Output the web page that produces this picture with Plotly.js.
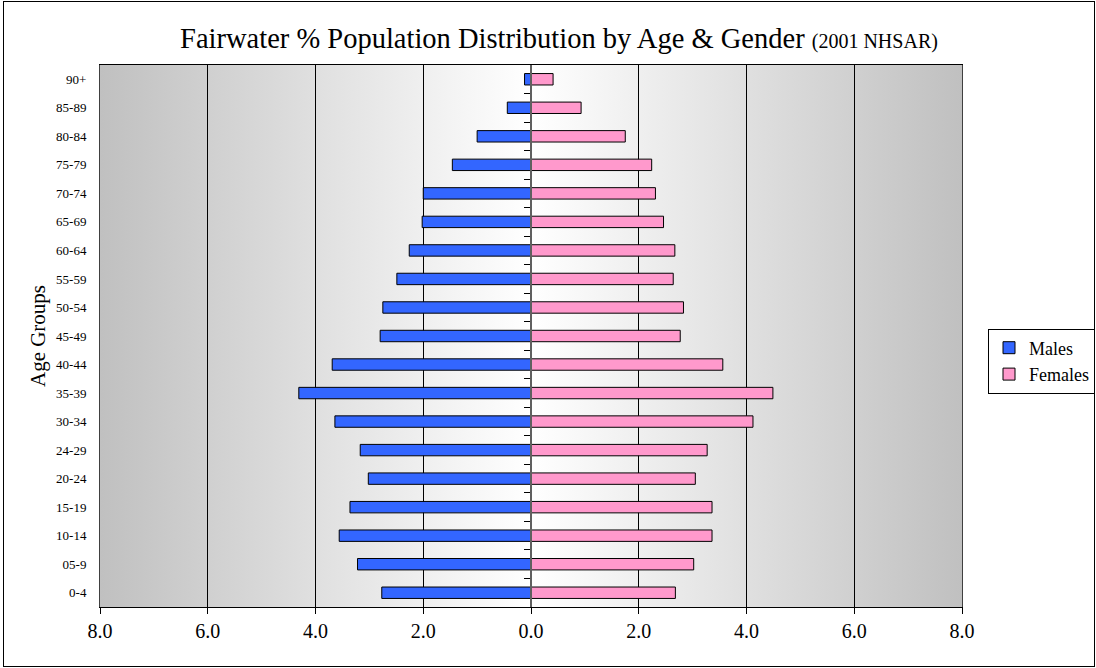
<!DOCTYPE html>
<html>
<head>
<meta charset="utf-8">
<script src="https://cdn.plot.ly/plotly-3.0.1.min.js"></script>
<style>
  html, body { margin: 0; padding: 0; background: #fff; }
  #wrap { position: relative; width: 1096px; height: 668px; }
  #chart { position: absolute; left: 0; top: 0; width: 1096px; height: 668px; }
  #frame { position: absolute; left: 3px; top: 1px; width: 1090px; height: 664px; border: 1px solid #000; pointer-events: none; }
</style>
</head>
<body>
<div id="wrap"><div id="chart"></div><div id="frame"></div></div>
<script>
const ageGroups = ["0-4","05-9","10-14","15-19","20-24","24-29","30-34","35-39","40-44","45-49","50-54","55-59","60-64","65-69","70-74","75-79","80-84","85-89","90+"];
const males   = [2.77, 3.22, 3.56, 3.36, 3.02, 3.17, 3.64, 4.31, 3.69, 2.80, 2.75, 2.49, 2.26, 2.02, 2.00, 1.46, 1.00, 0.44, 0.12];
const females = [2.68, 3.02, 3.36, 3.36, 3.05, 3.27, 4.12, 4.49, 3.56, 2.77, 2.83, 2.64, 2.67, 2.46, 2.31, 2.24, 1.75, 0.93, 0.41];
const xTickVals = [-8, -6, -4, -2, 0, 2, 4, 6, 8];
const xTickText = ["8.0", "6.0", "4.0", "2.0", "0.0", "2.0", "4.0", "6.0", "8.0"];

const serif = "Liberation Serif, Times New Roman, serif";

const boundaries = ageGroups.slice(1).map((_, i) => i + 0.5);

const traces = [
  {
    type: "bar", orientation: "h", name: "Males",
    y: ageGroups, x: males.map(v => -v),
    marker: { color: "#3366ff", line: { color: "#000", width: 1 } },
    hoverinfo: "skip"
  },
  {
    type: "bar", orientation: "h", name: "Females",
    y: ageGroups, x: females,
    marker: { color: "#ff99cc", line: { color: "#000", width: 1 } },
    hoverinfo: "skip"
  },
  {
    type: "scatter", mode: "markers", x: [null], y: [null],
    xaxis: "x", yaxis: "y2", showlegend: false, hoverinfo: "skip"
  }
];

// background gradient (style only)
const svg = '<svg xmlns="http://www.w3.org/2000/svg" width="200" height="10" preserveAspectRatio="none">' +
  '<defs><linearGradient id="g" x1="0" y1="0" x2="1" y2="0">' +
  '<stop offset="0" stop-color="#c0c0c0"/><stop offset="0.5" stop-color="#ffffff"/><stop offset="1" stop-color="#c0c0c0"/>' +
  '</linearGradient></defs><rect width="200" height="10" fill="url(#g)"/></svg>';
const bgSrc = "data:image/svg+xml;base64," + btoa(svg);

const layout = {
  width: 1096, height: 668,
  margin: { l: 100, r: 134, t: 65, b: 61, autoexpand: false },
  paper_bgcolor: "rgba(0,0,0,0)",
  plot_bgcolor: "rgba(0,0,0,0)",
  font: { family: serif, color: "#000" },
  title: {
    text: "Fairwater % Population Distribution by Age &amp; Gender <span style='font-size:20px'>(2001 NHSAR)</span>",
    font: { family: serif, size: 28.5, color: "#000" },
    x: (559 - 100) / 862, xanchor: "center", xref: "paper",
    y: 1 - 38 / 668, yanchor: "middle", yref: "container"
  },
  barmode: "overlay",
  bargap: 0.6,
  showlegend: true,
  legend: {
    x: (988 - 100) / 862, xanchor: "left",
    y: (607 - 361) / 542, yanchor: "middle",
    bgcolor: "#fff", bordercolor: "#000", borderwidth: 1,
    font: { family: serif, size: 18, color: "#000" },
    tracegroupgap: 0, itemwidth: 30
  },
  images: [{
    source: bgSrc, xref: "x", yref: "paper", x: -8, y: 1, sizex: 16, sizey: 1,
    sizing: "stretch", layer: "below", xanchor: "left", yanchor: "top"
  }],
  xaxis: {
    range: [-8, 8], tickmode: "array", tickvals: xTickVals, ticktext: xTickText,
    showgrid: true, gridcolor: "#000", gridwidth: 1,
    zeroline: false,
    showline: true, linecolor: "#000", linewidth: 1, mirror: true,
    ticks: "outside", ticklen: 6, tickcolor: "#000",
    tickfont: { family: serif, size: 20, color: "#000" },
    fixedrange: true
  },
  yaxis: {
    type: "category", categoryorder: "array", categoryarray: ageGroups,
    range: [-0.5, ageGroups.length - 0.5],
    showgrid: false, zeroline: false,
    showline: true, linecolor: "#404040", linewidth: 1, mirror: true,
    ticks: "", ticklabelstandoff: 10,
    tickfont: { family: serif, size: 13, color: "#000" },
    title: { text: "Age Groups", font: { family: serif, size: 21, color: "#000" }, standoff: 4 },
    fixedrange: true
  },
  yaxis2: {
    overlaying: "y", anchor: "free", position: 0.5, side: "left",
    range: [-0.5, ageGroups.length - 0.5],
    tickmode: "array", tickvals: boundaries, showticklabels: false,
    ticks: "outside", ticklen: 6, tickcolor: "#000", tickwidth: 1,
    showgrid: false, zeroline: false,
    showline: true, linecolor: "#606060", linewidth: 2,
    fixedrange: true
  }
};

Plotly.newPlot("chart", traces, layout, { displayModeBar: false, staticPlot: true });
</script>
</body>
</html>
